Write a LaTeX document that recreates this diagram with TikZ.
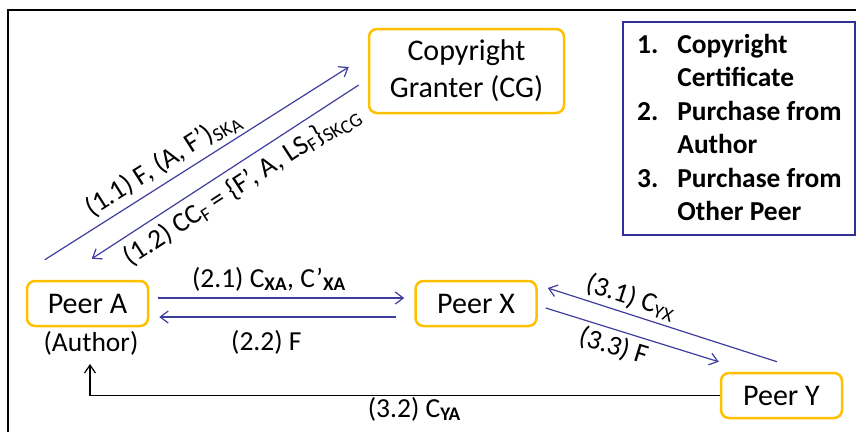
\documentclass[tikz,border=0pt]{standalone}
\usepackage{fontspec}
\setmainfont{Carlito}
\usetikzlibrary{arrows.meta,calc}

\definecolor{boxgold}{RGB}{255,192,0}
\definecolor{flowblue}{RGB}{62,62,158}
\definecolor{legendblue}{RGB}{48,48,150}

\newcommand\pnodefont{\fontsize{30}{37}\selectfont}
\newcommand\plabelfont{\fontsize{27.5}{33.5}\selectfont}
\newcommand\plegendfont{\fontsize{27.4}{33.5}\selectfont\bfseries}
% a second-level index, kept at the size of the first one and only lowered
\newcommand\lowerindex[1]{\raisebox{-0.35ex}{#1}}

\tikzset{
  peer/.style={draw=boxgold, line width=2.5pt, rounded corners=8pt,
    minimum width=121pt, minimum height=45pt, inner sep=0pt, font=\pnodefont},
  flow/.style={draw=flowblue, line width=1.2pt,
    -{Straight Barb[length=8pt,width=12pt,line width=1.2pt]}},
  reply/.style={draw=black, line width=1.2pt,
    -{Straight Barb[length=8pt,width=11pt,line width=1.2pt]}},
  lbl/.style={font=\plabelfont, inner sep=1pt, text=black},
}

\begin{document}
\begin{tikzpicture}[x=1pt, y=-1pt]
  \useasboundingbox (0,0) rectangle (856,432);

  % outer frame
  \draw[line width=1.8pt] (8,432) -- (8,10) -- (856,10);

  % parties
  \node[peer, minimum width=195pt, minimum height=84pt, align=center] (cg) at (466.5,71)
    {Copyright\\Granter (CG)};
  \node[peer] (peerA) at (87.5,303.5) {Peer A};
  \node[peer] (peerX) at (476,303.5) {Peer X};
  \node[peer] (peerY) at (781.5,395.5) {Peer Y};
  \node[lbl, anchor=base] (author) at (91,351) {(Author)};

  % legend
  \node[draw=legendblue, line width=1.5pt, minimum width=232pt, minimum height=213pt,
    inner sep=0pt] (legend) at (739,128.5) {};
  \node[anchor=base west, inner sep=0pt, font=\plegendfont] (legendtext) at (637,53)
    {\begin{tabular}[t]{@{}l@{\hspace{19pt}}l@{}}
      1. & Copyright\\
         & Certificate\\
      2. & Purchase from\\
         & Author\\
      3. & Purchase from\\
         & Other Peer
     \end{tabular}};

  % 1: copyright certificate
  \draw[flow] ($(peerA.north west)+(19,-20)$) -- ($(cg.west)+(-19,-4)$)
    node[lbl, sloped, pos=0.42, above=2pt] (l11)
      {(1.1) F, (A, F’)\textsubscript{SK\lowerindex{A}}};
  \draw[flow] ($(cg.west)+(-9,14)$) -- ($(peerA.north west)+(66,-21)$)
    node[lbl, sloped, pos=0.48, below=6pt] (l12)
      {(1.2) CC\textsubscript{F} = \{F’, A, LS\textsubscript{F}\}\textsubscript{SK\lowerindex{CG}}};

  % 2: purchase from author
  \draw[flow] ($(peerA.east)+(9,-5.5)$) -- ($(peerX.west)+(-10,-5.5)$)
    node[lbl, pos=0.45, anchor=base, yshift=11pt] (l21)
      {(2.1) C\textsubscript{\textbf{XA}}, C’\textsubscript{\textbf{XA}}};
  \draw[flow] ($(peerX.west)+(-18,13.5)$) -- ($(peerA.east)+(10,13.5)$)
    node[lbl, pos=0.548, anchor=base, yshift=-33pt] (l22) {(2.2) F};

  % 3: purchase from another peer
  \draw[flow] ($(peerY.north)+(-4.5,-10)$) -- ($(peerX.east)+(10,-15.5)$)
    node[lbl, sloped, pos=0.66, above=3pt] (l31) {(3.1) C\textsubscript{YX}};
  \draw[flow] ($(peerX.east)+(8,4.5)$) -- ($(peerY.north west)+(-1,-10)$)
    node[lbl, sloped, pos=0.42, below=3pt] (l33) {(3.3) F};
  \coordinate (authortip) at (90,364);
  \draw[reply] (peerY.west) -| (authortip)
    node[lbl, pos=0.2425, anchor=base, yshift=-21.5pt] (l32)
      {(3.2) C\textsubscript{\textbf{YA}}};
\end{tikzpicture}
\end{document}
